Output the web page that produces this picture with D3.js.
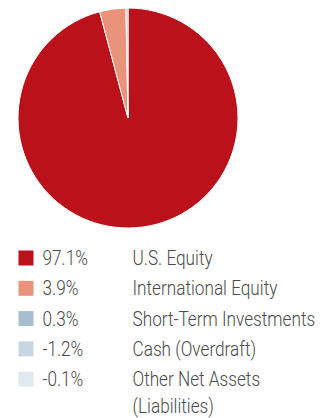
<!DOCTYPE html>
<html>
<head>
<meta charset="utf-8">
<script src="https://cdn.jsdelivr.net/npm/d3@7"></script>
<style>
  html, body { margin: 0; padding: 0; background: #fff; }
  svg { display: block; }
  text { font-family: "Roboto", "Liberation Sans", sans-serif; font-weight: 300; fill: #4a4a4a; }
</style>
</head>
<body>
<svg id="chart" width="329" height="418"></svg>
<script>
// Asset allocation (% of net assets)
const categories = ["U.S. Equity", "International Equity", "Short-Term Investments", "Cash (Overdraft)", "Other Net Assets (Liabilities)"];
const values = [97.1, 3.9, 0.3, -1.2, -0.1];
const valueLabels = ["97.1%", "3.9%", "0.3%", "-1.2%", "-0.1%"];
const colors = ["#BA111A", "#E8937A", "#A6BECD", "#C7D6E2", "#E1E9F0"];

const svg = d3.select("#chart");
const cx = 128, cy = 118, radius = 110;

// Only positive holdings are drawn as slices
const slices = categories.map((c, i) => ({ name: c, value: values[i], color: colors[i] }))
  .filter(d => d.value > 0);

const pie = d3.pie().value(d => d.value).sort(null);
const arc = d3.arc().innerRadius(0).outerRadius(radius);

svg.append("g")
  .attr("transform", `translate(${cx},${cy})`)
  .selectAll("path")
  .data(pie(slices))
  .join("path")
  .attr("d", arc)
  .attr("fill", d => d.data.color)
  .attr("stroke", "#fff")
  .attr("stroke-width", 1);

// Legend
const legendTop = 258, rowH = 30.3;
const fontSize = 20, squeeze = 0.86; // condensed look
const legendLines = [["U.S. Equity"], ["International Equity"], ["Short-Term Investments"], ["Cash (Overdraft)"], ["Other Net Assets", "(Liabilities)"]];

const rows = svg.append("g")
  .selectAll("g")
  .data(categories)
  .join("g")
  .attr("transform", (d, i) => `translate(0,${legendTop + i * rowH})`);

rows.append("rect")
  .attr("x", 18.5).attr("y", -7.5)
  .attr("width", 15).attr("height", 15)
  .attr("fill", (d, i) => colors[i]);

rows.append("text")
  .attr("transform", `translate(42.5,0) scale(${squeeze},1)`)
  .attr("dy", "0.355em")
  .attr("font-size", fontSize)
  .text((d, i) => valueLabels[i]);

rows.append("text")
  .attr("transform", `translate(132.5,0) scale(${squeeze},1)`)
  .attr("font-size", fontSize)
  .selectAll("tspan")
  .data((d, i) => legendLines[i])
  .join("tspan")
  .attr("x", 0)
  .attr("dy", (d, j) => j === 0 ? "0.355em" : "27px")
  .text(d => d);
</script>
</body>
</html>
